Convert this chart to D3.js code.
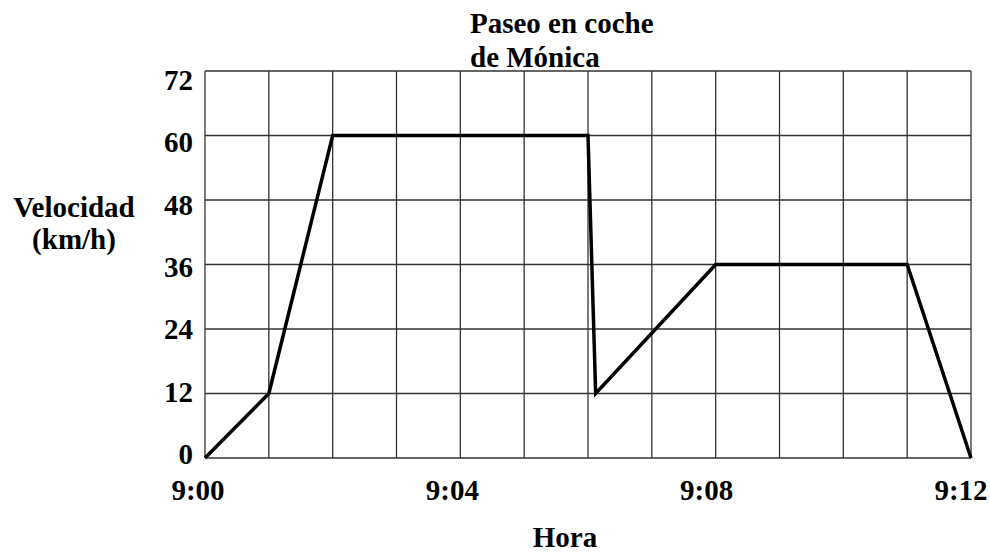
<!DOCTYPE html>
<html>
<head>
<meta charset="utf-8">
<script src="https://cdn.jsdelivr.net/npm/d3@7"></script>
<style>
  body { margin: 0; background: #fff; }
</style>
</head>
<body>
<div id="chart"></div>
<script>
// Paseo en coche de Mónica — velocidad vs hora

const minutes = [0, 1, 2, 6, 6.12, 8, 11, 12];      // minutos después de 9:00
const speeds = [0, 12, 60, 60, 12, 36, 36, 0];        // km/h
const yTicks = [0, 12, 24, 36, 48, 60, 72];
const xLabelTicks = [0, 4, 8, 12];
const xLabels = ['9:00', '9:04', '9:08', '9:12'];
const titleLines = ['Paseo en coche', 'de Mónica'];
const yTitleLines = ['Velocidad', '(km/h)'];
const xTitle = 'Hora';

const W = 990, H = 554;
const plot = { left: 205, right: 971, top: 71, bottom: 458 };

const svg = d3.select('#chart').append('svg').attr('width', W).attr('height', H)
    .style('font-family', '"Liberation Serif", "Times New Roman", serif').style('font-weight', 'bold')
    .style('font-size', '29px');

const x = d3.scaleLinear().domain([0, 12]).range([plot.left, plot.right]);
const y = d3.scaleLinear().domain([0, 72]).range([plot.bottom, plot.top]);
// tick labels in the picture sit a little off their gridlines
const yLab = d3.scaleLinear().domain([0, 72]).range([464, 90]);
const xLab = d3.scaleLinear().domain([0, 12]).range([198, 961]);

// grid
const grid = svg.append('g').attr('stroke', '#333').attr('stroke-width', 1.3);
grid.selectAll('line.v').data(d3.range(0, 13)).enter().append('line')
    .attr('x1', d => x(d)).attr('x2', d => x(d))
    .attr('y1', y(0)).attr('y2', y(72));
grid.selectAll('line.h').data(yTicks).enter().append('line')
    .attr('x1', x(0)).attr('x2', x(12))
    .attr('y1', d => y(d)).attr('y2', d => y(d));

// y tick labels
svg.append('g').selectAll('text').data(yTicks).enter().append('text')
    .attr('x', plot.left - 12).attr('y', d => yLab(d))
    .attr('text-anchor', 'end')
    .text(d => d);

// x tick labels
svg.append('g').selectAll('text').data(xLabelTicks).enter().append('text')
    .attr('x', d => xLab(d)).attr('y', 500)
    .attr('text-anchor', 'middle')
    .text((d, i) => xLabels[i]);

// data line
const line = d3.line().x(d => x(d[0])).y(d => y(d[1]));
svg.append('path')
    .datum(minutes.map((m, i) => [m, speeds[i]]))
    .attr('d', line)
    .attr('fill', 'none').attr('stroke', '#000').attr('stroke-width', 3.5)
    .attr('stroke-linejoin', 'miter');

// title
svg.append('g').selectAll('text').data(titleLines).enter().append('text')
    .attr('x', 470).attr('y', (d, i) => 33 + i * 34)
    .text(d => d);

// y axis title
svg.append('g').selectAll('text').data(yTitleLines).enter().append('text')
    .attr('x', 74).attr('y', (d, i) => 217 + i * 32)
    .attr('text-anchor', 'middle').text(d => d);

// x axis title
svg.append('text').attr('x', 565).attr('y', 547)
    .attr('text-anchor', 'middle').text(xTitle);
</script>
</body>
</html>
